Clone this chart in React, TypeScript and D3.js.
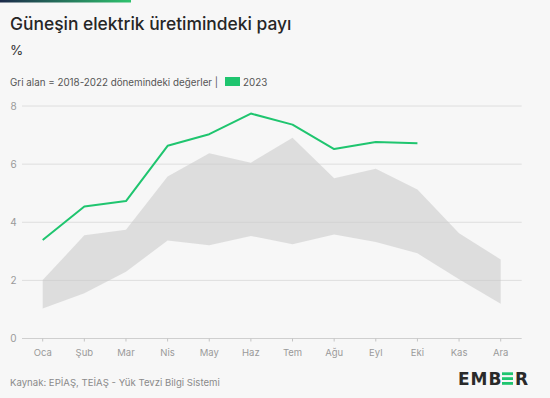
import React from "react";
import * as d3 from "d3";

const months = ["Oca", "Şub", "Mar", "Nis", "May", "Haz", "Tem", "Ağu", "Eyl", "Eki", "Kas", "Ara"];
const rangeMin = [1.03, 1.56, 2.3, 3.37, 3.21, 3.53, 3.24, 3.58, 3.32, 2.93, 2.04, 1.2];
const rangeMax = [2.01, 3.55, 3.74, 5.57, 6.37, 6.05, 6.91, 5.51, 5.84, 5.13, 3.62, 2.72];
const share2023 = [3.39, 4.54, 4.73, 6.63, 7.03, 7.74, 7.36, 6.52, 6.76, 6.72];
const yTicks = [0, 2, 4, 6, 8];

const W = 550;
const H = 398;
const FONT = "Inter, 'Noto Sans', sans-serif";

export default function App() {
  const x = d3.scalePoint<string>().domain(months).range([42.7, 500.7]);
  const y = d3.scaleLinear().domain([0, 8]).range([338.5, 106]);

  const area = d3
    .area<number>()
    .x((d, i) => x(months[i])!)
    .y0((d, i) => y(rangeMin[i]))
    .y1((d) => y(d));

  const line = d3
    .line<number>()
    .x((d, i) => x(months[i])!)
    .y((d) => y(d));

  return (
    <svg
      width={W}
      height={H}
      style={{ position: "absolute", left: 0, top: 0, background: "#f7f7f7" }}
      fontFamily={FONT}
    >
      <defs>
        <linearGradient id="topbar" x1="0" x2="1" y1="0" y2="0">
          <stop offset="0" stopColor="#1c2a4a" />
          <stop offset="1" stopColor="#2fc36e" />
        </linearGradient>
      </defs>
      <rect x={0} y={0} width={W} height={H} fill="#f7f7f7" />
      <rect x={0} y={0} width={131} height={2.5} fill="url(#topbar)" />

      <text x={10} y={30} fontSize={17.4} fill="#262626" fontWeight={500}>
        Güneşin elektrik üretimindeki payı
      </text>
      <text x={10} y={55} fontSize={13.5} fill="#333">
        %
      </text>
      <text x={10} y={85.5} fontSize={9.8} fill="#555">
        Gri alan = 2018-2022 dönemindeki değerler |
      </text>
      <rect x={225} y={77} width={15} height={9} fill="#1fc56f" />
      <text x={243} y={85.5} fontSize={9.8} fill="#555">
        2023
      </text>

      {yTicks.map((t) => (
        <g key={t}>
          <line
            x1={22}
            x2={521.7}
            y1={y(t)}
            y2={y(t)}
            stroke={t === 0 ? "#cfcfcf" : "#dedede"}
            strokeWidth={1}
          />
          <text x={13.5} y={y(t) + 3.5} fontSize={10} fill="#9a9a9a" textAnchor="middle">
            {t}
          </text>
        </g>
      ))}

      <path d={area(rangeMax) ?? ""} fill="#c8c8c8" fillOpacity={0.55} />

      {months.map((m) => (
        <g key={m}>
          <line x1={x(m)} x2={x(m)} y1={y(0)} y2={y(0) + 3} stroke="#c4c4c4" />
          <text x={x(m)} y={y(0) + 17} fontSize={9.5} fill="#9a9a9a" textAnchor="middle">
            {m}
          </text>
        </g>
      ))}

      <path d={line(share2023) ?? ""} fill="none" stroke="#1fc56f" strokeWidth={2} strokeLinejoin="round" />

      <text x={10} y={386} fontSize={9.6} fill="#8a8a8a">
        Kaynak: EPİAŞ, TEİAŞ - Yük Tevzi Bilgi Sistemi
      </text>

      <g fontSize={17} fontWeight={800} fill="#2a2a2a" fontFamily="'DejaVu Sans', sans-serif">
        <text x={458} y={384.5} letterSpacing={1}>
          EMB
        </text>
        <rect x={502} y={372.3} width={11} height={2.8} fill="#1fc56f" />
        <rect x={502} y={377.2} width={11} height={2.8} fill="#1fc56f" />
        <rect x={502} y={382} width={11} height={2.8} fill="#1fc56f" />
        <text x={515} y={384.5}>R</text>
      </g>
    </svg>
  );
}
